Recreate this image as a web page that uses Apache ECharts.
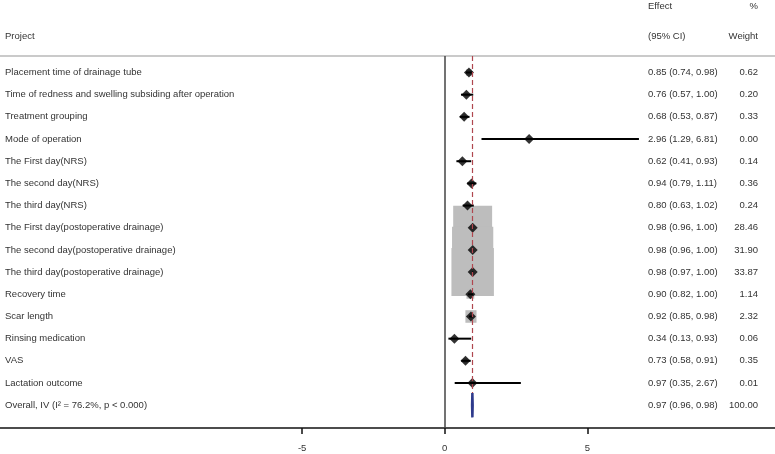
<!DOCTYPE html>
<html><head><meta charset="utf-8">
<script src="https://cdn.jsdelivr.net/npm/echarts@6/dist/echarts.min.js"></script>
<style>html,body{margin:0;padding:0;background:#fff}#c{width:775px;height:454px}</style>
</head><body><div id="c"></div>
<script>
// ---- data ----
const projects = [
  'Placement time of drainage tube',
  'Time of redness and swelling subsiding after operation',
  'Treatment grouping',
  'Mode of operation',
  'The First day(NRS)',
  'The second day(NRS)',
  'The third day(NRS)',
  'The First day(postoperative drainage)',
  'The second day(postoperative drainage)',
  'The third day(postoperative drainage)',
  'Recovery time',
  'Scar length',
  'Rinsing medication',
  'VAS',
  'Lactation outcome'
];
const effects = [0.85, 0.76, 0.68, 2.96, 0.62, 0.94, 0.80, 0.98, 0.98, 0.98, 0.90, 0.92, 0.34, 0.73, 0.97];
const lowerCI = [0.74, 0.57, 0.53, 1.29, 0.41, 0.79, 0.63, 0.96, 0.96, 0.97, 0.82, 0.85, 0.13, 0.58, 0.35];
const upperCI = [0.98, 1.00, 0.87, 6.81, 0.93, 1.11, 1.02, 1.00, 1.00, 1.00, 1.00, 0.98, 0.93, 0.91, 2.67];
const weights = [0.62, 0.20, 0.33, 0.00, 0.14, 0.36, 0.24, 28.46, 31.90, 33.87, 1.14, 2.32, 0.06, 0.35, 0.01];
const overallLabel = 'Overall, IV (I\u00B2 = 76.2%, p < 0.000)';
const overallEffect = 0.97, overallLower = 0.96, overallUpper = 0.98, overallWeight = 100.00;
const xTicks = [-5, 0, 5];
const headerProject = 'Project', headerEffect1 = 'Effect', headerEffect2 = '(95% CI)', headerW1 = '%', headerW2 = 'Weight';

// ---- layout constants ----
const FONT = '"Liberation Sans", Arial, sans-serif';
const FS = 9.5;
const TXT = '#333';
const XMIN = -15.593, XMAX = 11.581;
const YMIN = -0.744, YMAX = 16.028;
const nRows = projects.length;
const overallRow = nRows;

const fmt = v => v.toFixed(2);
const rowLabels = projects.concat([overallLabel]);
const effectTexts = effects.map((e, i) => `${fmt(e)} (${fmt(lowerCI[i])}, ${fmt(upperCI[i])})`)
  .concat([`${fmt(overallEffect)} (${fmt(overallLower)}, ${fmt(overallUpper)})`]);
const weightTexts = weights.map(fmt).concat([fmt(overallWeight)]);

const chart = echarts.init(document.getElementById('c'), null, {renderer: 'canvas'});

const option = {
  animation: false,
  backgroundColor: '#fff',
  grid: {left: 0, right: 0, top: 56, bottom: 26},
  xAxis: [{
    type: 'value', min: XMIN, max: XMAX, position: 'bottom',
    axisLine: {show: true, onZero: false, lineStyle: {color: '#111', width: 1.5}},
    axisTick: {show: true, customValues: xTicks, length: 6, lineStyle: {color: '#111', width: 1.5}},
    axisLabel: {show: true, customValues: xTicks, margin: 15, fontSize: 9.5, color: TXT, fontFamily: FONT},
    splitLine: {show: false}
  }, {
    type: 'value', min: XMIN, max: XMAX, position: 'top',
    axisLine: {show: true, onZero: false, lineStyle: {color: '#cacaca', width: 2}},
    axisTick: {show: false}, axisLabel: {show: false}, splitLine: {show: false}
  }],
  yAxis: {
    type: 'value', inverse: true, min: YMIN, max: YMAX, show: false
  },
  graphic: [
    {type: 'text', left: 5, top: 31, style: {text: headerProject, fontSize: FS, fontFamily: FONT, fill: TXT}},
    {type: 'text', left: 648, top: 1, style: {text: headerEffect1, fontSize: FS, fontFamily: FONT, fill: TXT}},
    {type: 'text', left: 648, top: 31, style: {text: headerEffect2, fontSize: FS, fontFamily: FONT, fill: TXT}},
    {type: 'text', right: 17, top: 1, style: {text: headerW1, fontSize: FS, fontFamily: FONT, fill: TXT}},
    {type: 'text', right: 17, top: 31, style: {text: headerW2, fontSize: FS, fontFamily: FONT, fill: TXT}}
  ],
  series: [
    { // weight boxes
      type: 'custom', name: 'boxes', z: 1,
      data: effects.map((e, i) => [e, i, weights[i]]),
      renderItem: function (params, api) {
        const c = api.coord([api.value(0), api.value(1)]);
        const w = 7.3 * Math.sqrt(api.value(2));
        const h = w * 1.13;
        return {type: 'rect', shape: {x: c[0] - w / 2, y: c[1] - h / 2, width: w, height: h},
          style: {fill: '#bdbdbd'}};
      }
    },
    { // reference lines
      type: 'scatter', name: 'refs', z: 2, data: [], symbolSize: 0,
      markLine: {
        silent: true, symbol: ['none', 'none'], label: {show: false}, animation: false,
        data: [
          {xAxis: 0, lineStyle: {color: '#444', width: 1.5, type: 'solid'}},
          [{coord: [overallEffect, YMIN], lineStyle: {color: '#b0474f', width: 1.2, type: [5, 3]}},
           {coord: [overallEffect, overallRow - 0.55]}]
        ]
      }
    },
    { // CI lines
      type: 'custom', name: 'ci', z: 3,
      data: effects.map((e, i) => [lowerCI[i], upperCI[i], i]),
      renderItem: function (params, api) {
        const a = api.coord([api.value(0), api.value(2)]);
        const b = api.coord([api.value(1), api.value(2)]);
        return {type: 'line', shape: {x1: a[0], y1: a[1], x2: b[0], y2: b[1]},
          style: {stroke: '#000', lineWidth: 2}};
      }
    },
    { // point estimates
      type: 'scatter', name: 'est', z: 4,
      data: effects.map((e, i) => [e, i]),
      symbol: 'diamond', symbolSize: [10, 10],
      itemStyle: {color: '#000'}
    },
    { // overall diamond
      type: 'custom', name: 'overall', z: 5,
      data: [[overallLower, overallEffect, overallUpper, overallRow]],
      renderItem: function (params, api) {
        const r = api.value(3);
        const p1 = api.coord([api.value(0), r]);
        const p2 = api.coord([api.value(1), r - 0.55]);
        const p3 = api.coord([api.value(2), r]);
        const p4 = api.coord([api.value(1), r + 0.55]);
        return {type: 'polygon', shape: {points: [p1, p2, p3, p4]},
          style: {fill: '#2e3a8c', stroke: '#2e3a8c', lineWidth: 2.5}};
      }
    },
    { // text columns
      type: 'custom', name: 'text', z: 6,
      data: rowLabels.map((l, i) => [0, i]),
      renderItem: function (params, api) {
        const i = params.dataIndex;
        const y = api.coord([0, api.value(1)])[1];
        const base = {fontSize: FS, fontFamily: FONT, fill: TXT, verticalAlign: 'middle'};
        return {type: 'group', children: [
          {type: 'text', x: 5, y: y, style: Object.assign({text: rowLabels[i], align: 'left'}, base)},
          {type: 'text', x: 648, y: y, style: Object.assign({text: effectTexts[i], align: 'left'}, base)},
          {type: 'text', x: 758, y: y, style: Object.assign({text: weightTexts[i], align: 'right'}, base)}
        ]};
      }
    }
  ]
};
chart.setOption(option);
</script>
</body></html>
